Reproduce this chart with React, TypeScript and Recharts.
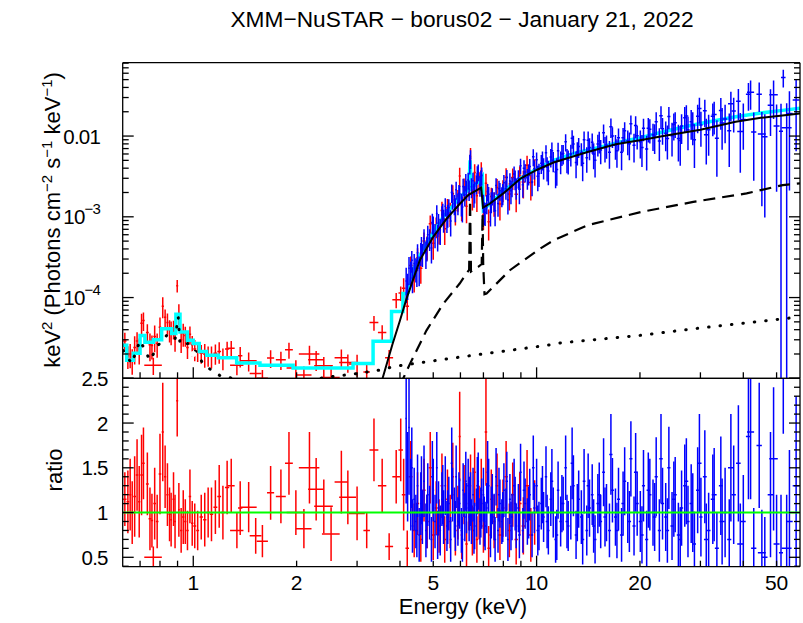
import React from "react";
import {
  ComposedChart,
  Line,
  Scatter,
  ErrorBar,
  XAxis,
  YAxis,
  ReferenceLine,
} from "recharts";

const FONT = "'Liberation Sans', Arial, Helvetica, sans-serif";
const WIDTH = 803;
const HEIGHT = 623;
const LEFT = 122.7;
const RIGHT = 3;
const TOP_PANEL_TOP = 62.7;
const PANEL_SPLIT = 378.3;
const BOTTOM_PANEL_BOTTOM = 566.7;

const RED = "#ff0000";
const BLUE = "#0000ff";
const CYAN = "#00ffff";
const GREEN = "#00ff00";

// axes
const energyDomain = [0.623, 58.5];
const fluxDomain = [1e-5, 0.081];
const ratioDomain = [0.395, 2.5];

const energyTicks = [0.7, 0.8, 0.9, 1, 2, 3, 4, 5, 6, 7, 8, 9, 10, 20, 30, 40, 50];
const energyMajor = [1, 10];
const energyLabels = [1, 2, 5, 10, 20, 50];

const fluxTicks = [
  1e-5, 2e-5, 3e-5, 4e-5, 5e-5, 6e-5, 7e-5, 8e-5, 9e-5,
  1e-4, 2e-4, 3e-4, 4e-4, 5e-4, 6e-4, 7e-4, 8e-4, 9e-4,
  1e-3, 2e-3, 3e-3, 4e-3, 5e-3, 6e-3, 7e-3, 8e-3, 9e-3,
  0.01, 0.02, 0.03, 0.04, 0.05, 0.06, 0.07, 0.08,
];
const fluxMajor = [1e-5, 1e-4, 1e-3, 0.01];

const ratioTicks = [
  0.4, 0.5, 0.6, 0.7, 0.8, 0.9, 1, 1.1, 1.2, 1.3, 1.4, 1.5, 1.6, 1.7, 1.8, 1.9,
  2, 2.1, 2.2, 2.3, 2.4, 2.5,
];
const ratioMajor = [0.5, 1, 1.5, 2, 2.5];
const ratioLabels = ["0.5", "1", "1.5", "2", "2.5"];

// XMM points: [energy, half width, flux, ratio, ratio error]
const xmmPoints: [number, number, number, number, number][] = [
  [0.632, 0.007, 2.9e-5, 1.15, 0.3],
  [0.645, 0.006, 1.9e-5, 1.12, 0.35],
  [0.655, 0.005, 2.0e-5, 1.2, 0.4],
  [0.664, 0.005, 1.7e-5, 1.0, 0.35],
  [0.675, 0.006, 2.4e-5, 1.18, 0.45],
  [0.686, 0.006, 2.9e-5, 1.42, 0.4],
  [0.696, 0.005, 2.3e-5, 1.12, 0.4],
  [0.707, 0.006, 4.8e-5, 1.42, 0.45],
  [0.716, 0.006, 5.2e-5, 1.55, 0.4],
  [0.765, 0.045, 1.45e-5, 0.5, 0.12],
  [0.735, 0.007, 3.7e-5, 1.32, 0.35],
  [0.748, 0.007, 2.6e-5, 0.93, 0.35],
  [0.758, 0.006, 2.55e-5, 0.91, 0.3],
  [0.772, 0.007, 3.3e-5, 1.1, 0.4],
  [0.785, 0.007, 2.7e-5, 0.9, 0.3],
  [0.8, 0.007, 4.3e-5, 1.43, 0.45],
  [0.815, 0.006, 7.8e-5, 1.9, 0.55],
  [0.828, 0.006, 5.7e-5, 1.4, 0.35],
  [0.841, 0.006, 4.9e-5, 1.2, 0.35],
  [0.853, 0.006, 4.0e-5, 0.98, 0.3],
  [0.862, 0.005, 3.8e-5, 0.92, 0.3],
  [0.876, 0.006, 4.1e-5, 1.15, 0.3],
  [0.885, 0.005, 3.2e-5, 0.9, 0.3],
  [0.898, 0.006, 1.4e-4, 2.25, 0.4],
  [0.908, 0.005, 6.4e-5, 1.03, 0.3],
  [0.922, 0.007, 3.0e-5, 0.8, 0.25],
  [0.935, 0.007, 3.6e-5, 0.95, 0.3],
  [0.948, 0.007, 3.4e-5, 0.9, 0.25],
  [0.962, 0.008, 2.4e-5, 0.8, 0.22],
  [0.978, 0.008, 3.5e-5, 1.18, 0.3],
  [0.993, 0.008, 2.6e-5, 0.88, 0.25],
  [1.01, 0.01, 2.3e-5, 0.85, 0.25],
  [1.03, 0.01, 2.2e-5, 0.8, 0.22],
  [1.055, 0.012, 2.05e-5, 0.95, 0.25],
  [1.08, 0.012, 2.0e-5, 0.92, 0.3],
  [1.105, 0.013, 1.93e-5, 1.0, 0.28],
  [1.13, 0.013, 1.9e-5, 0.98, 0.3],
  [1.16, 0.015, 2.05e-5, 1.06, 0.3],
  [1.19, 0.015, 2.15e-5, 1.18, 0.35],
  [1.22, 0.016, 1.8e-5, 1.0, 0.3],
  [1.255, 0.018, 2.3e-5, 1.28, 0.3],
  [1.29, 0.03, 2.35e-5, 1.3, 0.3],
  [1.34, 0.06, 1.45e-5, 0.8, 0.2],
  [1.37, 0.02, 1.9e-5, 1.05, 0.3],
  [1.45, 0.08, 1.65e-5, 1.06, 0.28],
  [1.52, 0.06, 1.15e-5, 0.74, 0.2],
  [1.59, 0.06, 1.0e-5, 0.68, 0.18],
  [1.68, 0.04, 1.78e-5, 1.22, 0.3],
  [1.8, 0.06, 1.7e-5, 1.18, 0.3],
  [1.9, 0.05, 2.25e-5, 1.55, 0.35],
  [1.99, 0.12, 1.34e-5, 1.0, 0.25],
  [2.1, 0.11, 1.1e-5, 0.82, 0.22],
  [2.18, 0.15, 2.0e-5, 1.5, 0.4],
  [2.28, 0.12, 1.7e-5, 1.26, 0.35],
  [2.4, 0.15, 1.43e-5, 1.07, 0.3],
  [2.52, 0.15, 1.02e-5, 0.76, 0.3],
  [2.7, 0.12, 1.8e-5, 1.34, 0.35],
  [2.82, 0.16, 1.57e-5, 1.17, 0.3],
  [3.0, 0.16, 1.5e-5, 0.99, 0.3],
  [3.2, 0.07, 1.2e-5, 0.8, 0.2],
  [3.36, 0.1, 4.9e-5, 1.7, 0.35],
  [3.55, 0.1, 3.7e-5, 1.3, 0.3],
  [3.72, 0.1, 1.8e-5, 0.62, 0.15],
  [3.9, 0.1, 9.4e-5, 1.4, 0.3],
  [4.02, 0.06, 1.14e-4, 1.7, 0.35],
  [4.1, 0.05, 1.3e-4, 1.2, 0.4],
  [4.2, 0.05, 7.8e-5, 0.6, 0.2],
  [4.3, 0.05, 2.5e-4, 1.4, 0.4],
  [4.4, 0.05, 1.85e-4, 0.8, 0.3],
  [4.5, 0.05, 3.1e-4, 1.1, 0.35],
  [4.6, 0.05, 2.3e-4, 0.7, 0.25],
  [4.7, 0.05, 5.0e-4, 1.25, 0.35],
  [4.8, 0.05, 4.3e-4, 0.9, 0.3],
  [4.9, 0.05, 8.2e-4, 1.5, 0.4],
  [5.0, 0.05, 4.7e-4, 0.75, 0.28],
  [5.1, 0.05, 7.6e-4, 1.05, 0.3],
  [5.2, 0.05, 7.0e-4, 0.85, 0.3],
  [5.3, 0.05, 1.2e-3, 1.3, 0.36],
  [5.4, 0.05, 7.1e-4, 0.7, 0.26],
  [5.5, 0.05, 1.29e-3, 1.15, 0.33],
  [5.6, 0.05, 1.12e-3, 0.9, 0.3],
  [5.7, 0.05, 1.93e-3, 1.4, 0.38],
  [5.8, 0.05, 1.2e-3, 0.8, 0.28],
  [5.9, 0.05, 1.65e-3, 1.0, 0.3],
  [5.97, 0.04, 3.2e-3, 1.85, 0.5],
  [6.05, 0.04, 1.38e-3, 0.75, 0.27],
  [6.15, 0.05, 2.34e-3, 1.2, 0.33],
  [6.25, 0.05, 1.35e-3, 0.65, 0.25],
  [6.35, 0.05, 2.4e-3, 1.1, 0.3],
  [6.42, 0.03, 5.6e-3, 1.3, 0.35],
  [6.5, 0.05, 1.84e-3, 0.8, 0.28],
  [6.6, 0.05, 3.55e-3, 1.45, 0.38],
  [6.7, 0.05, 1.82e-3, 0.7, 0.26],
  [6.8, 0.05, 2.75e-3, 1.0, 0.3],
  [6.9, 0.05, 3.7e-3, 1.25, 0.35],
  [7.0, 0.05, 1.06e-3, 0.85, 0.3],
  [7.12, 0.06, 2.6e-3, 1.9, 0.6],
  [7.25, 0.06, 8.7e-4, 0.6, 0.25],
  [7.38, 0.06, 1.78e-3, 1.15, 0.33],
  [7.52, 0.07, 1.5e-3, 0.9, 0.3],
  [7.67, 0.07, 2.3e-3, 1.3, 0.36],
  [7.82, 0.08, 1.44e-3, 0.75, 0.28],
  [7.98, 0.08, 2.18e-3, 1.05, 0.32],
  [8.15, 0.09, 3.1e-3, 1.4, 0.4],
  [8.33, 0.09, 1.92e-3, 0.8, 0.3],
  [8.52, 0.1, 3.06e-3, 1.2, 0.36],
  [8.72, 0.1, 1.9e-3, 0.7, 0.28],
  [8.93, 0.11, 3.2e-3, 1.1, 0.35],
  [9.15, 0.11, 2.7e-3, 0.85, 0.32],
  [9.38, 0.12, 4.35e-3, 1.3, 0.4],
  [9.62, 0.12, 2.66e-3, 0.75, 0.3],
  [9.87, 0.13, 3.8e-3, 1.0, 0.36],
];

// NuSTAR FPMA points: [energy, half width, flux, ratio, ratio error]
const nustarAPoints: [number, number, number, number, number][] = [
  [4.17, 0.02, 1.6e-4, 2.05, 0.95],
  [4.21, 0.02, 1.45e-4, 1.4, 0.5],
  [4.25, 0.02, 2.3e-4, 1.95, 0.75],
  [4.3, 0.025, 2.1e-4, 1.2, 0.4],
  [4.35, 0.025, 1.75e-4, 0.85, 0.3],
  [4.4, 0.025, 2.65e-4, 1.15, 0.35],
  [4.45, 0.025, 2.3e-4, 0.9, 0.3],
  [4.5, 0.025, 3.6e-4, 1.3, 0.35],
  [4.55, 0.025, 2.3e-4, 0.75, 0.3],
  [4.6, 0.025, 3.6e-4, 1.1, 0.35],
  [4.65, 0.025, 3.5e-4, 0.95, 0.3],
  [4.7, 0.03, 5.4e-4, 1.35, 0.4],
  [4.76, 0.03, 3.6e-4, 0.8, 0.3],
  [4.82, 0.03, 6.0e-4, 1.2, 0.35],
  [4.88, 0.03, 5.4e-4, 1.0, 0.3],
  [4.94, 0.03, 4.1e-4, 0.7, 0.25],
  [5.0, 0.03, 7.9e-4, 1.25, 0.35],
  [5.06, 0.03, 6.1e-4, 0.9, 0.3],
  [5.12, 0.03, 1.1e-3, 1.5, 0.4],
  [5.18, 0.03, 8.4e-4, 1.05, 0.3],
  [5.24, 0.03, 6.9e-4, 0.8, 0.28],
  [5.3, 0.03, 1.07e-3, 1.15, 0.3],
  [5.36, 0.03, 9.3e-4, 0.95, 0.3],
  [5.42, 0.03, 1.35e-3, 1.3, 0.33],
  [5.48, 0.03, 9.4e-4, 0.85, 0.28],
  [5.55, 0.035, 1.3e-3, 1.1, 0.3],
  [5.62, 0.035, 8.9e-4, 0.7, 0.25],
  [5.69, 0.035, 1.63e-3, 1.2, 0.3],
  [5.76, 0.035, 1.45e-3, 1.0, 0.28],
  [5.83, 0.035, 2.17e-3, 1.4, 0.35],
  [5.9, 0.035, 1.49e-3, 0.9, 0.27],
  [5.97, 0.035, 1.93e-3, 1.1, 0.28],
  [6.04, 0.035, 1.47e-3, 0.8, 0.25],
  [6.11, 0.035, 2.38e-3, 1.25, 0.3],
  [6.18, 0.035, 1.88e-3, 0.95, 0.27],
  [6.25, 0.035, 2.17e-3, 1.05, 0.28],
  [6.32, 0.035, 2.86e-3, 1.3, 0.3],
  [6.39, 0.035, 4.6e-3, 1.1, 0.3],
  [6.46, 0.035, 2.35e-3, 0.9, 0.25],
  [6.53, 0.035, 2.8e-3, 1.2, 0.3],
  [6.6, 0.04, 2.1e-3, 0.85, 0.26],
  [6.68, 0.04, 2.58e-3, 1.0, 0.27],
  [6.76, 0.04, 3.6e-3, 1.35, 0.32],
  [6.84, 0.04, 2.5e-3, 0.9, 0.26],
  [6.92, 0.04, 3.25e-3, 1.1, 0.28],
  [7.0, 0.04, 1.5e-3, 1.2, 0.3],
  [7.08, 0.04, 1.13e-3, 0.85, 0.27],
  [7.16, 0.04, 1.47e-3, 1.05, 0.28],
  [7.25, 0.045, 1.9e-3, 1.3, 0.3],
  [7.34, 0.045, 1.14e-3, 0.75, 0.25],
  [7.43, 0.045, 1.82e-3, 1.15, 0.28],
  [7.52, 0.045, 1.58e-3, 0.95, 0.26],
  [7.62, 0.05, 2.44e-3, 1.4, 0.32],
  [7.72, 0.05, 1.46e-3, 0.8, 0.25],
  [7.82, 0.05, 2.1e-3, 1.1, 0.27],
  [7.92, 0.05, 1.82e-3, 0.9, 0.25],
  [8.03, 0.055, 2.65e-3, 1.25, 0.3],
  [8.14, 0.055, 2.22e-3, 1.0, 0.27],
  [8.25, 0.055, 1.62e-3, 0.7, 0.24],
  [8.36, 0.055, 2.78e-3, 1.15, 0.28],
  [8.48, 0.06, 2.4e-3, 0.95, 0.26],
  [8.6, 0.06, 3.4e-3, 1.3, 0.3],
  [8.72, 0.06, 2.3e-3, 0.85, 0.25],
  [8.85, 0.065, 3.0e-3, 1.05, 0.27],
  [8.98, 0.065, 4.3e-3, 1.45, 0.32],
  [9.12, 0.07, 2.5e-3, 0.8, 0.25],
  [9.26, 0.07, 3.58e-3, 1.1, 0.28],
  [9.4, 0.07, 3.04e-3, 0.9, 0.26],
  [9.55, 0.075, 4.2e-3, 1.2, 0.29],
  [9.7, 0.075, 2.7e-3, 0.75, 0.25],
  [9.85, 0.075, 3.94e-3, 1.05, 0.28],
  [10.0, 0.08, 5.1e-3, 1.3, 0.3],
  [10.16, 0.08, 3.44e-3, 0.85, 0.27],
  [10.32, 0.08, 4.6e-3, 1.1, 0.29],
  [10.48, 0.08, 4.1e-3, 0.95, 0.28],
  [10.65, 0.085, 6.2e-3, 1.4, 0.34],
  [10.82, 0.085, 3.7e-3, 0.8, 0.27],
  [11.0, 0.09, 5.5e-3, 1.15, 0.3],
  [11.18, 0.09, 4.95e-3, 1.0, 0.28],
  [11.36, 0.09, 3.6e-3, 0.7, 0.26],
  [11.55, 0.095, 6.6e-3, 1.25, 0.32],
  [11.75, 0.1, 4.9e-3, 0.9, 0.28],
  [11.95, 0.1, 6.1e-3, 1.1, 0.3],
  [12.15, 0.1, 8.5e-3, 1.5, 0.36],
  [12.36, 0.105, 5.0e-3, 0.85, 0.28],
  [12.58, 0.11, 6.0e-3, 1.0, 0.3],
  [12.8, 0.11, 8.0e-3, 1.3, 0.34],
  [13.03, 0.115, 4.7e-3, 0.75, 0.27],
  [13.26, 0.115, 7.4e-3, 1.15, 0.32],
  [13.5, 0.12, 6.2e-3, 0.95, 0.3],
  [13.75, 0.125, 9.0e-3, 1.35, 0.36],
  [14.0, 0.125, 5.4e-3, 0.8, 0.28],
  [14.26, 0.13, 7.2e-3, 1.05, 0.32],
  [14.52, 0.13, 8.4e-3, 1.2, 0.34],
  [14.8, 0.14, 5.0e-3, 0.7, 0.27],
  [15.08, 0.14, 8.0e-3, 1.1, 0.33],
  [15.37, 0.145, 6.7e-3, 0.9, 0.3],
  [15.67, 0.15, 1.1e-2, 1.45, 0.38],
  [15.98, 0.155, 7.7e-3, 1.0, 0.32],
  [16.3, 0.16, 6.3e-3, 0.8, 0.3],
  [16.63, 0.165, 1.0e-2, 1.25, 0.36],
  [16.97, 0.17, 7.7e-3, 0.95, 0.32],
  [17.32, 0.175, 9.5e-3, 1.15, 0.35],
  [17.68, 0.18, 6.3e-3, 0.75, 0.3],
  [18.05, 0.185, 1.16e-2, 1.35, 0.38],
  [18.43, 0.19, 8.75e-3, 1.0, 0.34],
  [18.82, 0.195, 1.42e-2, 1.6, 0.42],
  [19.22, 0.2, 7.7e-3, 0.85, 0.33],
  [19.63, 0.205, 1.01e-2, 1.1, 0.36],
  [20.05, 0.21, 8.5e-3, 0.9, 0.34],
  [20.48, 0.215, 1.25e-2, 1.3, 0.4],
  [20.92, 0.22, 6.9e-3, 0.7, 0.32],
  [21.37, 0.225, 1.21e-2, 1.2, 0.4],
  [21.83, 0.23, 1.04e-2, 1.0, 0.37],
  [22.3, 0.235, 1.5e-2, 1.4, 0.44],
  [22.78, 0.24, 8.7e-3, 0.8, 0.35],
  [23.27, 0.245, 1.23e-2, 1.1, 0.4],
  [23.77, 0.25, 1.08e-2, 0.95, 0.38],
  [24.28, 0.255, 1.75e-2, 1.5, 0.46],
  [24.8, 0.26, 1.01e-2, 0.85, 0.38],
  [25.33, 0.265, 1.46e-2, 1.2, 0.42],
  [25.88, 0.275, 9.3e-3, 0.75, 0.36],
  [26.44, 0.28, 1.33e-2, 1.05, 0.42],
  [27.01, 0.29, 1.69e-2, 1.3, 0.46],
  [27.6, 0.295, 1.2e-2, 0.9, 0.4],
  [28.2, 0.3, 1.5e-2, 1.1, 0.44],
  [28.82, 0.31, 9.0e-3, 0.65, 0.36],
  [29.45, 0.32, 1.76e-2, 1.25, 0.48],
  [30.1, 0.33, 1.37e-2, 0.95, 0.44],
  [30.9, 0.4, 2.06e-2, 1.4, 0.52],
  [31.7, 0.4, 1.2e-2, 0.8, 0.42],
  [32.6, 0.45, 1.76e-2, 1.15, 0.5],
  [33.5, 0.45, 9.4e-3, 0.6, 0.4],
  [34.4, 0.45, 2.08e-2, 1.3, 0.55],
  [35.4, 0.5, 1.63e-2, 1.0, 0.5],
  [36.4, 0.5, 1.16e-2, 0.7, 0.45],
  [37.5, 0.55, 2.04e-2, 1.2, 0.55],
  [38.7, 0.6, 2.7e-2, 1.55, 0.65],
  [40.0, 0.65, 1.6e-2, 0.9, 0.52],
  [41.4, 0.7, 3.3e-2, 1.85, 0.7],
  [42.9, 0.75, 1.12e-2, 0.6, 0.45],
  [44.5, 0.8, 3.3e-2, 1.75, 0.7],
  [46.2, 0.85, 9.8e-3, 0.5, 0.45],
  [48.0, 0.9, 2.4e-2, 1.2, 0.7],
  [50.0, 1.0, 1.33e-2, 0.65, 0.55],
  [51.5, 0.7, 1.15e-2, 0.55, 0.65],
  [52.3, 0.8, 5.3e-2, 2.5, 0.62],
  [54.5, 1.2, 1.9e-2, 0.9, 0.8],
  [57.0, 1.3, 2.8e-2, 1.3, 1.0],
];

// NuSTAR FPMB points: [energy, half width, flux, ratio, ratio error]
const nustarBPoints: [number, number, number, number, number][] = [
  [4.33, 0.03, 2.9e-4, 1.5, 0.45],
  [4.48, 0.03, 2.16e-4, 0.8, 0.3],
  [4.62, 0.035, 4.3e-4, 1.25, 0.38],
  [4.79, 0.035, 4.2e-4, 0.9, 0.3],
  [4.97, 0.04, 8.5e-4, 1.4, 0.4],
  [5.15, 0.04, 5.8e-4, 0.75, 0.27],
  [5.33, 0.04, 1.14e-3, 1.2, 0.33],
  [5.51, 0.04, 1.07e-3, 0.95, 0.3],
  [5.66, 0.04, 2.0e-3, 1.55, 0.4],
  [5.8, 0.04, 1.28e-3, 0.85, 0.28],
  [5.94, 0.04, 1.96e-3, 1.15, 0.3],
  [6.08, 0.04, 1.32e-3, 0.7, 0.25],
  [6.22, 0.04, 2.73e-3, 1.35, 0.33],
  [6.36, 0.03, 2.2e-3, 0.95, 0.27],
  [6.42, 0.03, 5.3e-3, 1.15, 0.3],
  [6.57, 0.045, 1.92e-3, 0.8, 0.26],
  [6.72, 0.045, 3.4e-3, 1.3, 0.32],
  [6.88, 0.045, 2.9e-3, 1.0, 0.28],
  [7.04, 0.05, 1.15e-3, 0.9, 0.28],
  [7.2, 0.05, 2.06e-3, 1.45, 0.35],
  [7.38, 0.055, 1.56e-3, 1.0, 0.29],
  [7.57, 0.055, 1.19e-3, 0.7, 0.25],
  [7.77, 0.06, 2.23e-3, 1.2, 0.3],
  [7.97, 0.06, 1.97e-3, 0.95, 0.28],
  [8.19, 0.065, 3.06e-3, 1.35, 0.33],
  [8.42, 0.065, 2.1e-3, 0.85, 0.27],
  [8.66, 0.07, 2.94e-3, 1.1, 0.3],
  [8.91, 0.075, 2.19e-3, 0.75, 0.26],
  [9.19, 0.08, 3.98e-3, 1.25, 0.32],
  [9.48, 0.08, 3.44e-3, 1.0, 0.29],
  [9.78, 0.085, 5.55e-3, 1.5, 0.36],
  [10.08, 0.09, 3.18e-3, 0.8, 0.28],
  [10.4, 0.095, 5.1e-3, 1.2, 0.32],
  [10.73, 0.1, 4.1e-3, 0.9, 0.3],
  [11.08, 0.1, 6.57e-3, 1.35, 0.36],
  [11.45, 0.11, 3.86e-3, 0.75, 0.28],
  [11.85, 0.115, 6.0e-3, 1.1, 0.32],
  [12.26, 0.12, 5.2e-3, 0.9, 0.3],
  [12.69, 0.125, 9.4e-3, 1.55, 0.4],
  [13.14, 0.13, 6.35e-3, 1.0, 0.32],
  [13.62, 0.14, 4.6e-3, 0.7, 0.28],
  [14.13, 0.145, 8.9e-3, 1.3, 0.36],
  [14.66, 0.15, 6.0e-3, 0.85, 0.3],
  [15.22, 0.16, 8.7e-3, 1.2, 0.36],
  [15.82, 0.17, 7.2e-3, 0.95, 0.33],
  [16.46, 0.18, 1.3e-2, 1.65, 0.45],
  [17.14, 0.19, 6.6e-3, 0.8, 0.31],
  [17.86, 0.2, 9.5e-3, 1.1, 0.36],
  [18.63, 0.21, 8.05e-3, 0.9, 0.34],
  [19.43, 0.22, 1.35e-2, 1.45, 0.44],
  [20.27, 0.23, 7.2e-3, 0.75, 0.32],
  [21.15, 0.24, 1.25e-2, 1.25, 0.42],
  [22.07, 0.26, 1.0e-2, 0.95, 0.38],
  [23.03, 0.27, 1.78e-2, 1.6, 0.5],
  [24.04, 0.28, 9.3e-3, 0.8, 0.36],
  [25.1, 0.3, 1.39e-2, 1.15, 0.42],
  [26.2, 0.32, 8.8e-3, 0.7, 0.36],
  [27.3, 0.35, 1.77e-2, 1.35, 0.48],
  [28.5, 0.38, 1.37e-2, 1.0, 0.44],
  [29.8, 0.42, 2.2e-2, 1.55, 0.55],
  [31.2, 0.48, 1.04e-2, 0.7, 0.4],
  [32.9, 0.55, 1.85e-2, 1.2, 0.52],
  [34.7, 0.6, 1.45e-2, 0.9, 0.48],
  [36.8, 0.7, 2.52e-2, 1.5, 0.6],
  [39.2, 0.8, 1.14e-2, 0.65, 0.45],
  [42.0, 1.0, 3.5e-2, 1.9, 0.75],
  [45.3, 1.2, 1.06e-2, 0.55, 0.48],
  [49.0, 1.4, 3.25e-2, 1.6, 0.8],
  [53.5, 1.8, 1.27e-2, 0.6, 0.6],
];

// model curves: [energy, value]
const cyanStep: [number, number][] = [
  [0.62, 2.56e-5], [0.64, 1.67e-5], [0.669, 2.05e-5], [0.7, 3.4e-5],
  [0.723, 2.8e-5], [0.765, 3.0e-5], [0.809, 4.1e-5], [0.865, 3.6e-5],
  [0.89, 6.2e-5], [0.915, 3.75e-5], [0.961, 2.95e-5], [1.0, 2.7e-5],
  [1.041, 2.15e-5], [1.094, 1.93e-5], [1.183, 1.8e-5], [1.338, 1.55e-5],
  [1.564, 1.45e-5], [1.953, 1.34e-5], [2.92, 1.52e-5], [3.34, 2.87e-5],
  [3.78, 6.7e-5], [4.08, 1.12e-4], [4.22, 1.12e-4],
];

const cyanSmooth: [number, number][] = [
  [4.22, 1.12e-4], [4.37, 2.18e-4], [4.57, 3.3e-4], [4.78, 4.7e-4],
  [5.0, 6.4e-4], [5.35, 1.0e-3], [5.6, 1.25e-3], [5.97, 1.75e-3],
  [6.2, 2.0e-3], [6.35, 2.2e-3], [6.4, 5.0e-3], [6.45, 2.25e-3],
  [6.84, 2.8e-3], [6.95, 3.1e-3], [7.0, 1.22e-3], [7.3, 1.45e-3],
  [8.0, 2.1e-3], [9.0, 3.0e-3], [10, 3.9e-3], [11.2, 5.0e-3],
  [13, 6.2e-3], [15.3, 7.3e-3], [18, 8.7e-3], [20, 9.5e-3],
  [23.4, 1.13e-2], [28, 1.35e-2], [33, 1.55e-2], [38, 1.73e-2],
  [45, 1.93e-2], [52, 2.08e-2], [58.5, 2.21e-2],
];

const totalModel: [number, number][] = [
  [3.5, 8e-6], [3.56, 1.0e-5], [3.8, 2.6e-5], [4.0, 5.2e-5],
  [4.18, 9.7e-5], [4.57, 2.9e-4], [5.0, 5.65e-4], [5.47, 9.5e-4],
  [5.97, 1.44e-3], [6.32, 1.86e-3], [6.9, 2.3e-3], [6.98, 1.3e-3],
  [7.3, 1.45e-3], [8.0, 1.95e-3], [9.0, 3.0e-3], [10, 3.8e-3],
  [11.2, 4.7e-3], [14, 6.3e-3], [17, 7.9e-3], [20, 8.9e-3],
  [23.4, 1.0e-2], [30, 1.2e-2], [38, 1.5e-2], [45, 1.68e-2],
  [52, 1.8e-2], [58.5, 1.9e-2],
];

const reflection: [number, number][] = [
  [4.0, 8e-6], [4.09, 1.0e-5], [4.28, 1.52e-5], [4.78, 3.93e-5],
  [5.35, 8.4e-5], [5.97, 1.49e-4], [6.25, 1.99e-4], [6.36, 2.2e-4],
  [6.4, 1.6e-3], [6.44, 2.1e-4], [6.76, 2.4e-4], [6.92, 2.6e-4],
  [6.96, 1.1e-3], [6.99, 2.6e-4], [7.05, 1.1e-4], [7.15, 1.12e-4],
  [8.36, 2.18e-4], [9.77, 3.5e-4], [10.2, 4.0e-4], [11.2, 5.1e-4],
  [14.1, 7.9e-4], [20.2, 1.15e-3], [28.6, 1.53e-3], [40.9, 1.95e-3],
  [52.1, 2.47e-3], [58.5, 2.6e-3],
];

const scattered: [number, number][] = [
  [0.625, 2.2e-5], [0.662, 1.52e-5], [0.7, 2.95e-5], [0.748, 1.67e-5],
  [0.79, 2.56e-5], [0.837, 3.4e-5], [0.885, 3.0e-5], [0.904, 5.8e-5],
  [0.915, 2.6e-5], [0.967, 2.7e-5], [1.02, 2.1e-5], [1.06, 1.6e-5],
  [1.13, 1.25e-5], [1.21, 1.05e-5], [1.31, 1.0e-5], [1.5, 8.5e-6],
  [2.0, 9.0e-6], [2.45, 1.03e-5], [2.83, 1.11e-5], [3.06, 1.16e-5],
  [3.34, 1.23e-5], [3.57, 1.28e-5], [3.83, 1.4e-5], [5.97, 1.83e-5],
  [10.7, 2.56e-5], [11.7, 2.74e-5], [20, 3.4e-5], [30, 4.2e-5],
  [54.7, 5.58e-5], [58.5, 5.7e-5],
];

const toCurve = (pts: [number, number][]) => pts.map(([E, v]) => ({ E, v }));

const toFlux = (pts: [number, number, number, number, number][]) =>
  pts.map(([E, dE, F, r, e]) => {
    const fe = (F * e) / r;
    return { E, v: F, ex: dE, ey: [Math.min(fe, F * 0.99999), fe] };
  });

const toRatio = (pts: [number, number, number, number, number][]) =>
  pts.map(([E, dE, , r, e]) => ({ E, v: r, ex: dE, ey: e }));

const xmmFlux = toFlux(xmmPoints);
const nustarAFlux = toFlux(nustarAPoints);
const nustarBFlux = toFlux(nustarBPoints);
const xmmRatio = toRatio(xmmPoints);
const nustarARatio = toRatio(nustarAPoints);
const nustarBRatio = toRatio(nustarBPoints);

const noShape = () => <g />;

type Side = "bottom" | "top" | "left" | "right";

function makeTick(
  side: Side,
  major: number[],
  label?: (v: number) => React.ReactNode,
  gap = 0
) {
  return (props: any) => {
    const { x, y, payload } = props;
    const v = payload.value as number;
    const len = major.includes(v) ? 11 : 6;
    let x2 = x;
    let y2 = y;
    if (side === "bottom") y2 = y - len;
    if (side === "top") y2 = y + len;
    if (side === "left") x2 = x + len;
    if (side === "right") x2 = x - len;
    const lab = label ? label(v) : null;
    return (
      <g>
        <line x1={x} y1={y} x2={x2} y2={y2} stroke="#000" strokeWidth={1.3} />
        {lab != null &&
          (side === "left" ? (
            <text
              x={x - gap}
              y={y + 7.5}
              textAnchor="end"
              fontSize={20.5}
              fill="#000"
              fontFamily={FONT}
              style={{ letterSpacing: "-0.8px" }}
            >
              {lab}
            </text>
          ) : (
            <text x={x} y={y + gap} textAnchor="middle" fontSize={21} fill="#000" fontFamily={FONT}>
              {lab}
            </text>
          ))}
      </g>
    );
  };
}

const fluxLabel = (v: number) => {
  if (v === 0.01) return "0.01";
  if (v === 1e-3)
    return (
      <>
        10<tspan dy={-10} fontSize={15}>−3</tspan>
      </>
    );
  if (v === 1e-4)
    return (
      <>
        10<tspan dy={-10} fontSize={15}>−4</tspan>
      </>
    );
  return null;
};

const ratioLabel = (v: number) => {
  const i = ratioMajor.indexOf(v);
  return i >= 0 ? ratioLabels[i] : null;
};

const energyLabel = (v: number) => (energyLabels.includes(v) ? String(v) : null);

const axisLine = { stroke: "#000", strokeWidth: 1.3 };

// one panel: a clipped chart for the data and an unclipped chart for the frame/ticks
function Panel(props: {
  top: number;
  bottom: number;
  logY: boolean;
  yDomain: number[];
  yTicks: number[];
  yMajor: number[];
  yLabel: (v: number) => React.ReactNode;
  yGap: number;
  xLabel?: (v: number) => React.ReactNode;
  children: React.ReactNode;
}) {
  const { top, bottom, logY, yDomain, yTicks, yMajor, yLabel, yGap, xLabel, children } = props;
  const yScale = logY ? "log" : "linear";
  const clip = `inset(${top}px ${RIGHT}px ${HEIGHT - bottom}px ${LEFT}px)`;
  return (
    <>
      <div style={{ position: "absolute", left: 0, top: 0, clipPath: clip }}>
        <ComposedChart
          width={WIDTH}
          height={HEIGHT}
          margin={{ top, right: RIGHT, bottom: HEIGHT - bottom, left: LEFT }}
        >
          <XAxis xAxisId="b" dataKey="E" type="number" scale="log" domain={energyDomain} allowDataOverflow hide />
          <YAxis yAxisId="l" type="number" scale={yScale} domain={yDomain} allowDataOverflow hide />
          {children}
        </ComposedChart>
      </div>
      <div style={{ position: "absolute", left: 0, top: 0 }}>
        <ComposedChart
          width={WIDTH}
          height={HEIGHT}
          margin={{ top: top - 1, right: RIGHT - 1, bottom: HEIGHT - bottom - 1, left: LEFT - 1 }}
        >
          <XAxis
            xAxisId="b"
            dataKey="E"
            type="number"
            scale="log"
            domain={energyDomain}
            ticks={energyTicks}
            allowDataOverflow
            height={1}
            tickSize={0}
            tickMargin={0}
            interval={0}
            axisLine={axisLine}
            tickLine={false}
            tick={makeTick("bottom", energyMajor, xLabel, 23.5)}
          />
          <XAxis
            xAxisId="t"
            orientation="top"
            type="number"
            scale="log"
            domain={energyDomain}
            ticks={energyTicks}
            allowDataOverflow
            height={1}
            tickSize={0}
            tickMargin={0}
            interval={0}
            axisLine={axisLine}
            tickLine={false}
            tick={makeTick("top", energyMajor)}
          />
          <YAxis
            yAxisId="l"
            type="number"
            scale={yScale}
            domain={yDomain}
            ticks={yTicks}
            allowDataOverflow
            width={1}
            tickSize={0}
            tickMargin={0}
            interval={0}
            axisLine={axisLine}
            tickLine={false}
            tick={makeTick("left", yMajor, yLabel, yGap)}
          />
          <YAxis
            yAxisId="r"
            orientation="right"
            type="number"
            scale={yScale}
            domain={yDomain}
            ticks={yTicks}
            allowDataOverflow
            width={1}
            tickSize={0}
            tickMargin={0}
            interval={0}
            axisLine={axisLine}
            tickLine={false}
            tick={makeTick("right", yMajor)}
          />
          <Line
            xAxisId="b"
            yAxisId="l"
            data={[{ E: 1, v: yTicks[1] }]}
            dataKey="v"
            stroke="none"
            dot={false}
            activeDot={false}
            isAnimationActive={false}
          />
        </ComposedChart>
      </div>
    </>
  );
}

const lineProps = {
  xAxisId: "b",
  yAxisId: "l",
  dataKey: "v",
  dot: false,
  activeDot: false,
  isAnimationActive: false,
};

export default function App() {
  return (
    <div style={{ position: "absolute", left: 0, top: 0, width: WIDTH, height: HEIGHT, background: "#fff" }}>
      <Panel
        top={TOP_PANEL_TOP}
        bottom={PANEL_SPLIT}
        logY
        yDomain={fluxDomain}
        yTicks={fluxTicks}
        yMajor={fluxMajor}
        yLabel={fluxLabel}
        yGap={22.7}
      >
        <Scatter xAxisId="b" yAxisId="l" data={xmmFlux} dataKey="v" shape={noShape} isAnimationActive={false}>
          <ErrorBar dataKey="ex" direction="x" width={0} stroke={RED} strokeWidth={1.5} isAnimationActive={false} />
          <ErrorBar dataKey="ey" direction="y" width={0} stroke={RED} strokeWidth={1.5} isAnimationActive={false} />
        </Scatter>
        <Line {...lineProps} data={toCurve(cyanStep)} type="stepAfter" stroke={CYAN} strokeWidth={3.5} />
        <Line {...lineProps} data={toCurve(cyanSmooth)} type="linear" stroke={CYAN} strokeWidth={3.5} />
        <Scatter xAxisId="b" yAxisId="l" data={nustarAFlux} dataKey="v" shape={noShape} isAnimationActive={false}>
          <ErrorBar dataKey="ex" direction="x" width={0} stroke={BLUE} strokeWidth={1.5} isAnimationActive={false} />
          <ErrorBar dataKey="ey" direction="y" width={0} stroke={BLUE} strokeWidth={1.5} isAnimationActive={false} />
        </Scatter>
        <Scatter xAxisId="b" yAxisId="l" data={nustarBFlux} dataKey="v" shape={noShape} isAnimationActive={false}>
          <ErrorBar dataKey="ex" direction="x" width={0} stroke={BLUE} strokeWidth={1.5} isAnimationActive={false} />
          <ErrorBar dataKey="ey" direction="y" width={0} stroke={BLUE} strokeWidth={1.5} isAnimationActive={false} />
        </Scatter>
        <Line {...lineProps} data={toCurve(totalModel)} type="linear" stroke="#000" strokeWidth={2} />
        <Line
          {...lineProps}
          data={toCurve(reflection)}
          type="linear"
          stroke="#000"
          strokeWidth={2.2}
          strokeDasharray="12 7"
        />
        <Line
          {...lineProps}
          data={toCurve(scattered)}
          type="linear"
          stroke="#000"
          strokeWidth={3}
          strokeDasharray="0.5 11"
          strokeLinecap="round"
        />
      </Panel>

      <Panel
        top={PANEL_SPLIT}
        bottom={BOTTOM_PANEL_BOTTOM}
        logY={false}
        yDomain={ratioDomain}
        yTicks={ratioTicks}
        yMajor={ratioMajor}
        yLabel={ratioLabel}
        yGap={15}
        xLabel={energyLabel}
      >
        <Scatter xAxisId="b" yAxisId="l" data={xmmRatio} dataKey="v" shape={noShape} isAnimationActive={false}>
          <ErrorBar dataKey="ex" direction="x" width={0} stroke={RED} strokeWidth={1.5} isAnimationActive={false} />
          <ErrorBar dataKey="ey" direction="y" width={0} stroke={RED} strokeWidth={1.5} isAnimationActive={false} />
        </Scatter>
        <Scatter xAxisId="b" yAxisId="l" data={nustarARatio} dataKey="v" shape={noShape} isAnimationActive={false}>
          <ErrorBar dataKey="ex" direction="x" width={0} stroke={BLUE} strokeWidth={1.5} isAnimationActive={false} />
          <ErrorBar dataKey="ey" direction="y" width={0} stroke={BLUE} strokeWidth={1.5} isAnimationActive={false} />
        </Scatter>
        <Scatter xAxisId="b" yAxisId="l" data={nustarBRatio} dataKey="v" shape={noShape} isAnimationActive={false}>
          <ErrorBar dataKey="ex" direction="x" width={0} stroke={BLUE} strokeWidth={1.5} isAnimationActive={false} />
          <ErrorBar dataKey="ey" direction="y" width={0} stroke={BLUE} strokeWidth={1.5} isAnimationActive={false} />
        </Scatter>
        <ReferenceLine xAxisId="b" yAxisId="l" y={1} stroke={GREEN} strokeWidth={2} />
      </Panel>

      {/* titles */}
      <svg
        width={WIDTH}
        height={HEIGHT}
        style={{ position: "absolute", left: 0, top: 0, pointerEvents: "none" }}
        fontFamily={FONT}
      >
        <text x={462} y={27} textAnchor="middle" fontSize={22.7} fill="#000">
          XMM−NuSTAR − borus02 − January 21, 2022
        </text>
        <text
          transform="translate(60,220) rotate(-90)"
          textAnchor="middle"
          fontSize={22}
          fill="#000"
          style={{ whiteSpace: "pre" }}
        >
          keV<tspan dy={-8} fontSize={15}>2</tspan>
          <tspan dy={8}> (Photons cm</tspan>
          <tspan dy={-8} fontSize={15}>−2</tspan>
          <tspan dy={8}> s</tspan>
          <tspan dy={-8} fontSize={15}>−1</tspan>
          <tspan dy={8}> keV</tspan>
          <tspan dy={-8} fontSize={15}>−1</tspan>
          <tspan dy={8}>)</tspan>
        </text>
        <text transform="translate(62,470) rotate(-90)" textAnchor="middle" fontSize={22} fill="#000">
          ratio
        </text>
        <text x={463} y={614} textAnchor="middle" fontSize={22} fill="#000">
          Energy (keV)
        </text>
      </svg>
    </div>
  );
}
